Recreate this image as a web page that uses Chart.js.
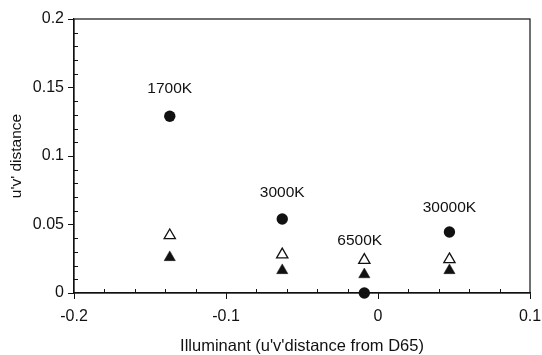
<!DOCTYPE html>
<html>
<head>
<meta charset="utf-8">
<script src="https://cdn.jsdelivr.net/npm/chart.js@4.4.1/dist/chart.umd.min.js"></script>
<style>
  html, body { margin: 0; padding: 0; background: #fff; }
  #wrap { width: 542px; height: 355px; position: relative; }
</style>
</head>
<body>
<div id="wrap"><canvas id="chart" width="542" height="355"></canvas></div>
<script>
// 데이터
const illuminants = ['1700K', '3000K', '6500K', '30000K'];
const xDistance = [-0.137, -0.063, -0.009, 0.047];
const circleValues = [0.129, 0.054, 0, 0.0445];
const openTriangleValues = [0.042, 0.028, 0.024, 0.0245];
const filledTriangleValues = [0.026, 0.0165, 0.0135, 0.0165];
const labelX = [-0.137, -0.063, -0.012, 0.047];
const labelY = [0.149, 0.073, 0.038, 0.062];
const xTicks = [-0.2, -0.1, 0, 0.1];
const yTicks = [0, 0.05, 0.1, 0.15, 0.2];

const FONT = '"Liberation Sans", Arial, Helvetica, sans-serif';
const INK = '#111';

function toPoints(values) {
    return values.map((v, i) => ({ x: xDistance[i], y: v }));
}

// 프레임, 안쪽 보조 눈금, 색온도 라벨
const framePlugin = {
    id: 'frame',
    afterDatasetsDraw(chart) {
        const { ctx, chartArea: a, scales: { x, y } } = chart;
        ctx.save();
        ctx.strokeStyle = INK;
        ctx.lineWidth = 1.2;
        ctx.strokeRect(a.left, a.top, a.right - a.left, a.bottom - a.top);

        // 보조 눈금 (안쪽)
        ctx.lineWidth = 1;
        ctx.beginPath();
        for (let i = 1; i < 20; i++) {
            if (i % 5 === 0) continue;
            const py = Math.round(y.getPixelForValue(i * 0.01)) + 0.5;
            ctx.moveTo(a.left, py);
            ctx.lineTo(a.left + 4, py);
        }
        for (let i = 1; i < 15; i++) {
            if (i % 5 === 0) continue;
            const px = Math.round(x.getPixelForValue(-0.2 + i * 0.02)) + 0.5;
            ctx.moveTo(px, a.bottom);
            ctx.lineTo(px, a.bottom - 4);
        }
        ctx.stroke();

        ctx.fillStyle = INK;
        ctx.font = '15.5px ' + FONT;
        ctx.textAlign = 'center';
        ctx.textBaseline = 'middle';
        illuminants.forEach((name, i) => {
            ctx.fillText(name, x.getPixelForValue(labelX[i]), y.getPixelForValue(labelY[i]));
        });
        ctx.restore();
    }
};

const ctx = document.getElementById('chart');
new Chart(ctx, {
    type: 'scatter',
    data: {
        datasets: [
            {
                label: 'circle',
                data: toPoints(circleValues),
                pointStyle: 'circle',
                pointRadius: 5.7,
                backgroundColor: INK,
                borderColor: INK,
                borderWidth: 0,
                clip: false
            },
            {
                label: 'open triangle',
                data: toPoints(openTriangleValues),
                pointStyle: 'triangle',
                pointRadius: 6.5,
                backgroundColor: '#fff',
                borderColor: INK,
                borderWidth: 1.3,
                clip: false
            },
            {
                label: 'filled triangle',
                data: toPoints(filledTriangleValues),
                pointStyle: 'triangle',
                pointRadius: 6.5,
                backgroundColor: INK,
                borderColor: INK,
                borderWidth: 0.5,
                clip: false
            }
        ]
    },
    options: {
        responsive: false,
        animation: false,
        layout: { padding: { top: 19, right: 12, left: 0, bottom: 0 } },
        plugins: {
            legend: { display: false },
            tooltip: { enabled: false }
        },
        scales: {
            x: {
                type: 'linear',
                min: -0.2,
                max: 0.1,
                afterBuildTicks: (s) => { s.ticks = xTicks.map(v => ({ value: v })); },
                afterFit: (s) => { s.height = 62; s.paddingLeft = 0; s.paddingRight = 0; },
                grid: { drawOnChartArea: false, drawTicks: true, tickLength: 6, color: INK, tickWidth: 1 },
                border: { display: true, color: INK, width: 1.2 },
                ticks: {
                    color: INK,
                    font: { family: FONT, size: 16 },
                    padding: 8,
                    maxRotation: 0,
                    callback: (v) => String(Math.round(v * 10) / 10)
                },
                title: {
                    display: true,
                    text: "Illuminant (u'v'distance from D65)",
                    color: INK,
                    font: { family: FONT, size: 16.5, lineHeight: 1 },
                    padding: { top: 0, bottom: 0 }
                }
            },
            y: {
                type: 'linear',
                min: 0,
                max: 0.2,
                afterBuildTicks: (s) => { s.ticks = yTicks.map(v => ({ value: v })); },
                afterFit: (s) => { s.width = 74; s.paddingTop = 0; s.paddingBottom = 0; },
                grid: { drawOnChartArea: false, drawTicks: true, tickLength: 6, color: INK, tickWidth: 1 },
                border: { display: true, color: INK, width: 1.2 },
                ticks: {
                    color: INK,
                    font: { family: FONT, size: 16 },
                    padding: 4,
                    callback: (v) => String(Math.round(v * 100) / 100)
                },
                title: {
                    display: true,
                    text: "u'v' distance",
                    color: INK,
                    font: { family: FONT, size: 15.5, lineHeight: 1 },
                    padding: { top: 9, bottom: 0 }
                }
            }
        }
    },
    plugins: [framePlugin]
});
</script>
</body>
</html>
